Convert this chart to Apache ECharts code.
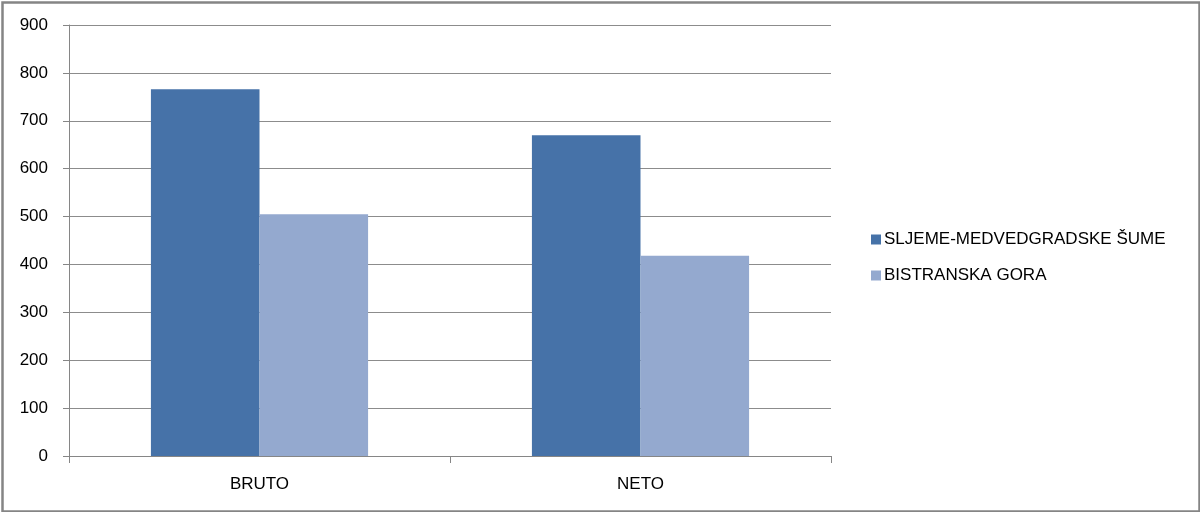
<!DOCTYPE html>
<html>
<head>
<meta charset="utf-8">
<script src="https://cdn.jsdelivr.net/npm/echarts@6/dist/echarts.min.js"></script>
<style>
html,body{margin:0;padding:0;background:#fff;}
#c{width:1200px;height:512px;}
</style>
</head>
<body>
<div id="c"></div>
<script>
const categories = ['BRUTO', 'NETO'];
const seriesNames = ['SLJEME-MEDVEDGRADSKE ŠUME', 'BISTRANSKA GORA'];
const sljemeValues = [766, 670];
const bistraValues = [505, 418];
const yTicks = { min: 0, max: 900, interval: 100 };

const chart = echarts.init(document.getElementById('c'), null, { renderer: 'canvas' });
const font = 'Liberation Sans';
chart.setOption({
  animation: false,
  backgroundColor: '#fff',
  graphic: [{
    type: 'rect', left: 0, top: 0,
    shape: { x: 1, y: 1, width: 1197, height: 509 },
    style: { fill: 'none', stroke: '#858585', lineWidth: 2.5 },
    silent: true
  }],
  grid: { left: 69, right: 369, top: 25, bottom: 56, containLabel: false },
  legend: {
    orient: 'vertical', left: 866, top: 226, itemWidth: 10, itemHeight: 10, itemGap: 19,
    icon: 'rect',
    textStyle: { fontFamily: font, fontSize: 17, color: '#000', padding: [0, 0, 0, -2] },
    data: seriesNames
  },
  xAxis: {
    type: 'category', data: categories,
    axisLine: { lineStyle: { color: '#868686', width: 1 } },
    axisTick: { show: true, length: 7, lineStyle: { color: '#868686' } },
    axisLabel: { fontFamily: font, fontSize: 17, color: '#000', margin: 20 },
    splitLine: { show: false }
  },
  yAxis: {
    type: 'value', min: yTicks.min, max: yTicks.max, interval: yTicks.interval,
    axisLine: { show: true, lineStyle: { color: '#868686', width: 1 } },
    axisTick: { show: true, length: 6, lineStyle: { color: '#868686' } },
    axisLabel: { fontFamily: font, fontSize: 17, color: '#000', margin: 21 },
    splitLine: { show: true, lineStyle: { color: '#8c8c8c', width: 1 } }
  },
  series: [
    { name: seriesNames[0], type: 'bar', data: sljemeValues, barGap: '0%', barCategoryGap: '43%',
      itemStyle: { color: '#4672A8' } },
    { name: seriesNames[1], type: 'bar', data: bistraValues, barGap: '0%', barCategoryGap: '43%',
      itemStyle: { color: '#94A9CF' } }
  ]
});
</script>
</body>
</html>
